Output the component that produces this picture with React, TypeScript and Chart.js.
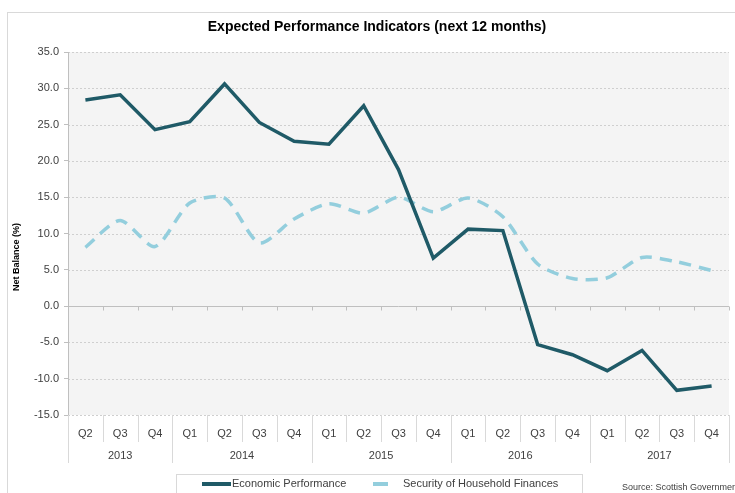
import React, { useEffect, useRef } from "react";
import { Chart, registerables } from "chart.js";

Chart.register(...registerables);

const quarters = ["Q2", "Q3", "Q4", "Q1", "Q2", "Q3", "Q4", "Q1", "Q2", "Q3", "Q4", "Q1", "Q2", "Q3", "Q4", "Q1", "Q2", "Q3", "Q4"];
const years = ["2013", "2013", "2013", "2014", "2014", "2014", "2014", "2015", "2015", "2015", "2015", "2016", "2016", "2016", "2016", "2017", "2017", "2017", "2017"];
const economicPerformance = [28.4, 29.1, 24.3, 25.4, 30.6, 25.3, 22.7, 22.3, 27.6, 18.8, 6.6, 10.6, 10.4, -5.3, -6.7, -8.9, -6.1, -11.6, -11.0];
const householdFinances = [8.1, 11.8, 8.2, 14.2, 14.9, 8.7, 12.0, 14.1, 12.8, 15.0, 13.0, 14.9, 12.3, 5.8, 3.8, 3.9, 6.7, 6.1, 4.9];
const seriesNames = ["Economic Performance", "Security of Household Finances"];
const titleText = "Expected Performance Indicators (next 12 months)";
const yTitle = "Net Balance (%)";
const sourceText = "Source: Scottish Government";

const FONT = "'Liberation Sans', Arial, sans-serif";
const DARK = "#1f5a67";
const LIGHT = "#93cedd";

const deco = {
  id: "deco",
  beforeDraw(chart: any) {
    const { ctx, chartArea: a } = chart;
    ctx.save();
    ctx.fillStyle = "#ffffff";
    ctx.fillRect(0, 0, chart.width, chart.height);
    ctx.strokeStyle = "#d9d9d9";
    ctx.lineWidth = 1;
    ctx.strokeRect(7.5, 12.5, 900, 600);
    ctx.fillStyle = "#f4f4f4";
    ctx.fillRect(a.left, a.top, a.right - a.left, a.bottom - a.top);
    const y = chart.scales.y;
    ctx.strokeStyle = "#cfcfcf";
    ctx.setLineDash([2, 2]);
    y.ticks.forEach((t: any) => {
      if (t.value === 0) return;
      const py = Math.round(y.getPixelForValue(t.value)) + 0.5;
      ctx.beginPath();
      ctx.moveTo(a.left, py);
      ctx.lineTo(a.right, py);
      ctx.stroke();
    });
    ctx.restore();
  },
  beforeDatasetsDraw(chart: any) {
    const { ctx, chartArea: a } = chart;
    const x = chart.scales.x;
    const y = chart.scales.y;
    ctx.save();
    const p0 = Math.round(y.getPixelForValue(0)) + 0.5;
    ctx.strokeStyle = "#bfbfbf";
    ctx.lineWidth = 1;
    ctx.beginPath();
    ctx.moveTo(a.left, p0);
    ctx.lineTo(a.right, p0);
    const n = quarters.length;
    for (let i = 0; i < n; i++) {
      const b = i < n - 1 ? (x.getPixelForValue(i) + x.getPixelForValue(i + 1)) / 2 : a.right;
      const bx = Math.round(b) + 0.5;
      ctx.moveTo(bx, p0);
      ctx.lineTo(bx, p0 + 4);
    }
    ctx.stroke();
    ctx.restore();
  },
  afterDraw(chart: any) {
    const { ctx, chartArea: a } = chart;
    const x = chart.scales.x;
    const n = quarters.length;
    ctx.save();
    const bounds: number[] = [a.left];
    for (let i = 0; i < n - 1; i++) bounds.push((x.getPixelForValue(i) + x.getPixelForValue(i + 1)) / 2);
    bounds.push(a.right);
    ctx.strokeStyle = "#d9d9d9";
    ctx.lineWidth = 1;
    ctx.beginPath();
    for (let i = 0; i <= n; i++) {
      const isYear = i === 0 || i === n || years[i] !== years[i - 1];
      const bx = Math.round(bounds[i]) + 0.5;
      ctx.moveTo(bx, a.bottom);
      ctx.lineTo(bx, isYear ? a.bottom + 48 : a.bottom + 27);
    }
    ctx.stroke();
    ctx.fillStyle = "#404040";
    ctx.font = `11px ${FONT}`;
    ctx.textAlign = "center";
    ctx.textBaseline = "middle";
    for (let i = 0; i < n; i++) {
      ctx.fillText(quarters[i], x.getPixelForValue(i), a.bottom + 19);
    }
    let start = 0;
    for (let i = 1; i <= n; i++) {
      if (i === n || years[i] !== years[start]) {
        const cx = (bounds[start] + bounds[i]) / 2;
        ctx.fillText(years[start], cx, a.bottom + 41);
        start = i;
      }
    }
    ctx.fillStyle = "#000000";
    ctx.font = `bold 14px ${FONT}`;
    ctx.fillText(titleText, 377, 27);
    ctx.save();
    ctx.translate(17, 257);
    ctx.rotate(-Math.PI / 2);
    ctx.font = `bold 9px ${FONT}`;
    ctx.fillText(yTitle, 0, 0);
    ctx.restore();
    ctx.strokeStyle = "#d9d9d9";
    ctx.lineWidth = 1;
    ctx.strokeRect(176.5, 474.5, 406, 40);
    ctx.lineWidth = 4;
    ctx.strokeStyle = DARK;
    ctx.beginPath();
    ctx.moveTo(202, 484);
    ctx.lineTo(231, 484);
    ctx.stroke();
    ctx.strokeStyle = LIGHT;
    ctx.beginPath();
    ctx.moveTo(373, 484);
    ctx.lineTo(388, 484);
    ctx.stroke();
    ctx.fillStyle = "#404040";
    ctx.font = `11px ${FONT}`;
    ctx.textAlign = "left";
    ctx.fillText(seriesNames[0], 232, 484);
    ctx.fillText(seriesNames[1], 403, 484);
    ctx.font = `9px ${FONT}`;
    ctx.fillText(sourceText, 622, 488);
    ctx.restore();
  },
};

export default function App() {
  const ref = useRef<HTMLCanvasElement>(null);
  useEffect(() => {
    document.body.style.margin = "0";
    const chart = new Chart(ref.current!, {
      type: "line",
      data: {
        labels: quarters.map((q, i) => `${years[i]} ${q}`),
        datasets: [
          {
            label: seriesNames[0],
            data: economicPerformance,
            borderColor: DARK,
            backgroundColor: DARK,
            borderWidth: 3.5,
            pointRadius: 0,
            tension: 0,
          },
          {
            label: seriesNames[1],
            data: householdFinances,
            borderColor: LIGHT,
            backgroundColor: LIGHT,
            borderWidth: 3.5,
            borderDash: [12, 8],
            pointRadius: 0,
            tension: 0.25,
          },
        ],
      },
      options: {
        responsive: false,
        animation: false,
        layout: { padding: { top: 52, bottom: 78, right: 6, left: 0 } },
        plugins: { legend: { display: false }, title: { display: false }, tooltip: { enabled: false } },
        scales: {
          x: { display: false, offset: true },
          y: {
            min: -15,
            max: 35,
            afterFit: (s: any) => {
              s.width = 68;
            },
            ticks: {
              stepSize: 5,
              callback: (v: any) => Number(v).toFixed(1),
              color: "#404040",
              font: { family: FONT, size: 11 },
              padding: 5,
            },
            grid: { drawOnChartArea: false, tickLength: 4, tickColor: "#bfbfbf" },
            border: { color: "#bfbfbf" },
          },
        },
      },
      plugins: [deco],
    });
    return () => chart.destroy();
  }, []);
  return (
    <div style={{ position: "fixed", left: 0, top: 0, width: 735, height: 493 }}>
      <canvas ref={ref} width={735} height={493} />
    </div>
  );
}
